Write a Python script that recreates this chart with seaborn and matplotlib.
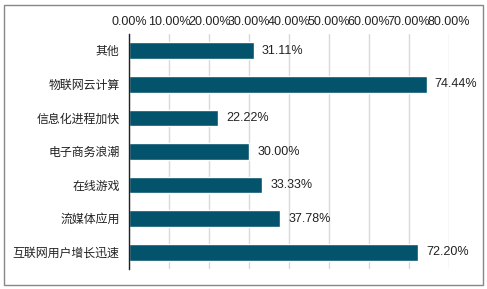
import matplotlib
matplotlib.use("Agg")
import matplotlib.pyplot as plt
import seaborn as sns
import pandas as pd
from matplotlib.patches import Rectangle

# data
categories = ["其他", "物联网云计算", "信息化进程加快", "电子商务浪潮", "在线游戏", "流媒体应用", "互联网用户增长迅速"]
values = [31.11, 74.44, 22.22, 30.00, 33.33, 37.78, 72.20]
x_ticks = [0, 10, 20, 30, 40, 50, 60, 70, 80]

df = pd.DataFrame({"category": categories, "value": values})

sns.set_style("white")
plt.rcParams["font.family"] = ["Liberation Sans", "Noto Sans CJK SC", "DejaVu Sans"]

fig = plt.figure(figsize=(4.87, 2.89), dpi=100)
ax = fig.add_axes([129.3 / 487, 1 - 269 / 289, (448.7 - 129.3) / 487, (269 - 34) / 289])

sns.barplot(data=df, x="value", y="category", orient="h", color="#03536D",
            saturation=1, width=0.5, ax=ax)

ax.set_xlim(0, 80)
ax.set_xticks(x_ticks)
ax.set_xticklabels([f"{t:.2f}%" for t in x_ticks], fontsize=9, color="#222222")
ax.xaxis.tick_top()
ax.tick_params(axis="x", length=0, pad=4)
ax.tick_params(axis="y", length=0, pad=7, labelsize=8.6, labelcolor="#222222")
ax.set_xlabel("")
ax.set_ylabel("")
ax.grid(axis="x", color="#D9D9D9", linewidth=1)
ax.set_axisbelow(True)
for s in ["top", "right", "bottom"]:
    ax.spines[s].set_visible(False)
ax.spines["left"].set_color("#222222")
ax.spines["left"].set_linewidth(1)

ax.bar_label(ax.containers[0], labels=[f"{v:.2f}%" for v in values],
             padding=6, fontsize=9, color="#222222")

# outer border
fig.patches.append(Rectangle((3.5 / 487, 4.5 / 289), 479.5 / 487, 280 / 289,
                             transform=fig.transFigure, fill=False,
                             edgecolor="#888888", linewidth=1))

fig.savefig("out.png", dpi=100)
